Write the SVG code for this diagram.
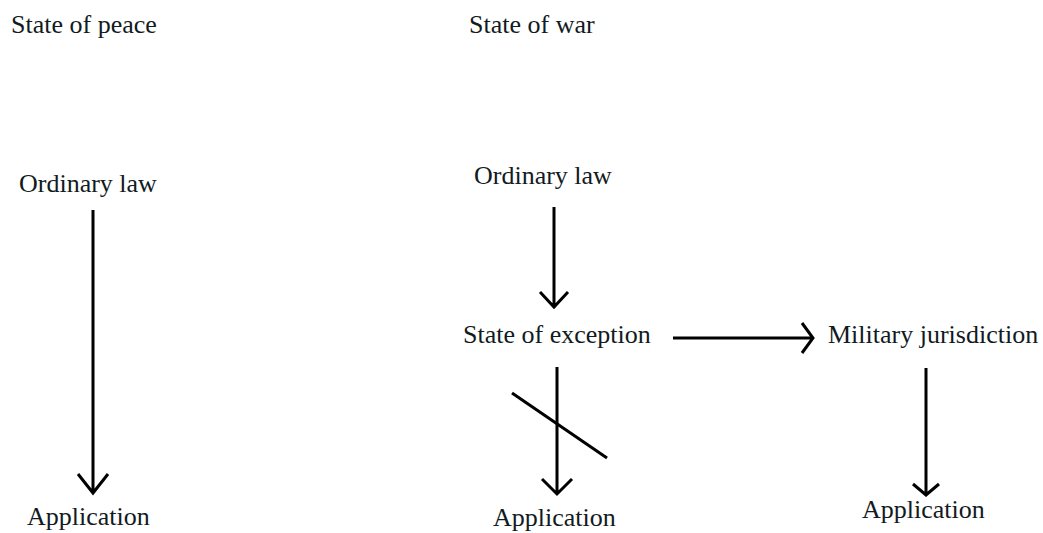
<svg xmlns="http://www.w3.org/2000/svg" width="1043" height="533" viewBox="0 0 1043 533">
<style>
text{font-family:"Liberation Serif","Times New Roman",serif;font-size:26px;fill:#121a22}
.ln{stroke:#000;stroke-width:3;fill:none;stroke-linecap:butt;stroke-linejoin:miter}
</style>
<rect width="1043" height="533" fill="#fff"/>
<g id="title-peace"><text x="11" y="33">State of peace</text></g>
<g id="title-war"><text x="469" y="33">State of war</text></g>
<g id="peace-ordinary"><text x="19" y="192">Ordinary law</text></g>
<g id="peace-application"><text x="27" y="525">Application</text></g>
<g id="war-ordinary"><text x="474" y="184">Ordinary law</text></g>
<g id="war-exception"><text x="463" y="343">State of exception</text></g>
<g id="war-military"><text x="828" y="343">Military jurisdiction</text></g>
<g id="war-application"><text x="493" y="526">Application</text></g>
<g id="military-application"><text x="862" y="518">Application</text></g>
<g id="connectors">
<path class="ln" d="M93,210 V493 M78,474 L93,493 L108,474"/>
<path class="ln" d="M554,207 V307 M540,292 L554,307 L568,292"/>
<path class="ln" d="M557,367 V494 M542,479 L557,494 L572,479"/>
<path class="ln" d="M512,393 L607,458"/>
<path class="ln" d="M673,338 H813 M802,323 L813,338 L802,353"/>
<path class="ln" d="M926,368 V495 M913,484 L926,495 L939,484"/>
</g>
</svg>
